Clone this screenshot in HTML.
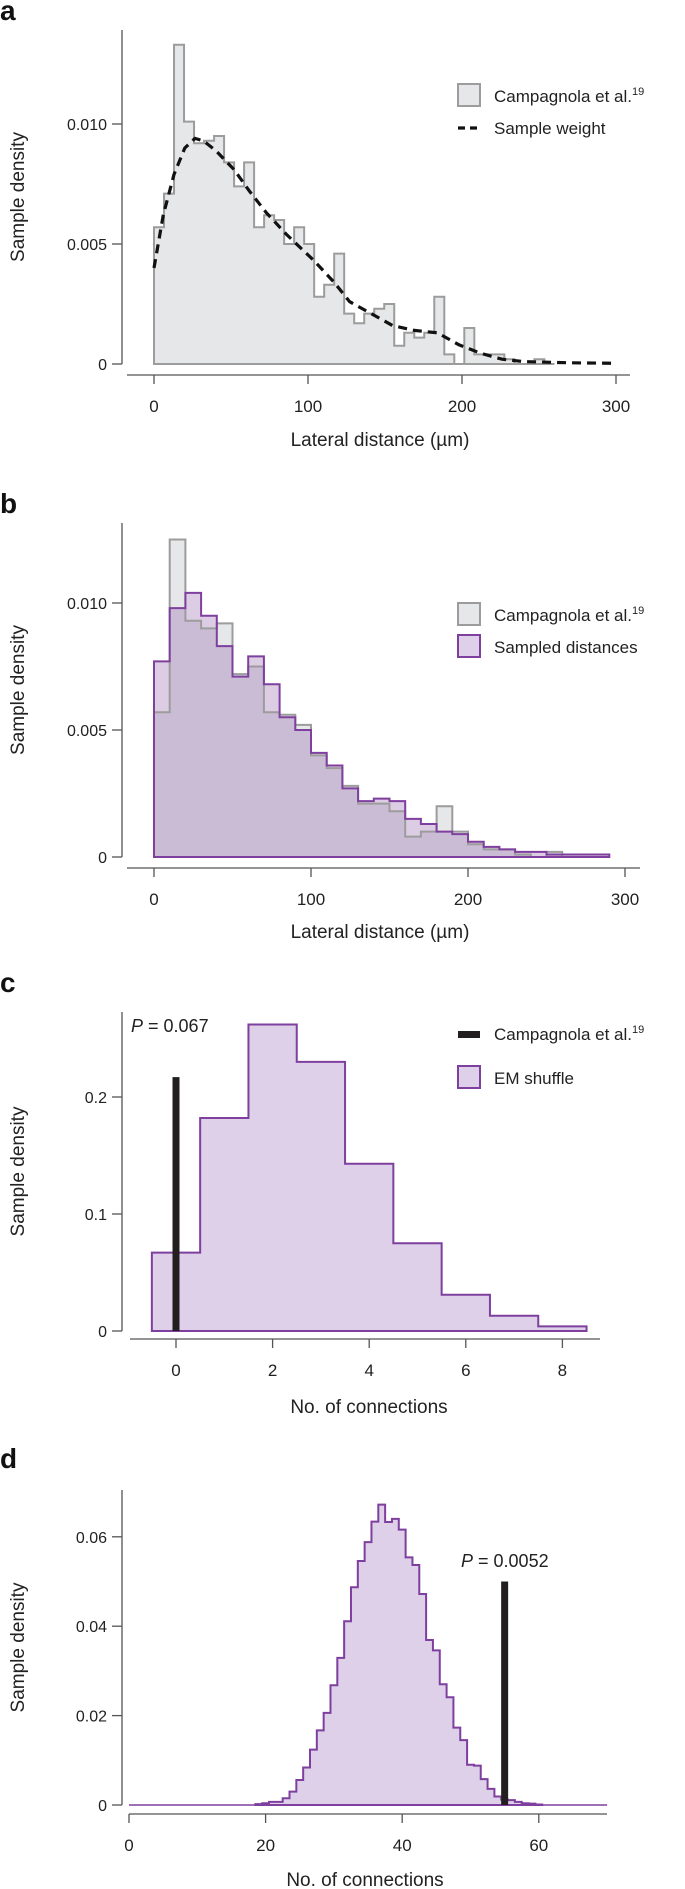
<!DOCTYPE html>
<html><head><meta charset="utf-8"><style>
html,body{margin:0;padding:0;background:#fff;}
svg{display:block;font-family:"Liberation Sans",sans-serif;}
</style></head><body>
<svg id="fig" width="685" height="1889" viewBox="0 0 685 1889" xmlns="http://www.w3.org/2000/svg"></svg>
<script>
// Panel a data
const aBinWidth = 6.5;
const aHist = [0.0057,0.0071,0.0133,0.0101,0.0092,0.0093,0.0095,0.0084,0.0074,0.0084,0.0057,0.0062,0.0060,0.0050,0.0057,0.0050,0.0028,0.0033,0.0046,0.0021,0.0017,0.0021,0.0023,0.0025,0.00076,0.0013,0.0011,0.0013,0.0028,0.0004,0,0.0015,0.0004,0.0004,0.0004,0.0002,0,0,0.0002,0];
const aCurveX = [0,6,13,20,26.6,32,40,52,62,73,86,104,117,127,141,155,169,184,198,212,226,240,270,300];
const aCurveY = [0.0040,0.0062,0.0079,0.0090,0.0094,0.0093,0.0089,0.0081,0.0072,0.0063,0.0054,0.0043,0.0034,0.0026,0.0021,0.0016,0.0014,0.0013,0.0008,0.00045,0.0002,0.0001,0.00005,0.00003];
const aXTicks = [0,100,200,300];
const aYTicks = [0,0.005,0.010];
const aYLabels = ["0","0.005","0.010"];
// Panel b data
const bBinWidth = 10;
const bGray = [0.0057,0.0125,0.0093,0.0090,0.0092,0.0072,0.0075,0.0057,0.0056,0.0052,0.0040,0.0035,0.0028,0.0021,0.0021,0.0018,0.0008,0.0010,0.0020,0.0010,0.0005,0.0003,0.0003,0.0001,0,0.0002,0];
const bPurple = [0.0077,0.0098,0.0104,0.0095,0.0083,0.0071,0.0079,0.0068,0.0055,0.0050,0.0041,0.0036,0.0027,0.0022,0.0023,0.0022,0.0015,0.0013,0.0010,0.0009,0.0006,0.0004,0.0003,0.0002,0.0002,0.0001,0.0001,0.0001,0.0001];
const bXTicks = [0,100,200,300];
const bYTicks = [0,0.005,0.010];
const bYLabels = ["0","0.005","0.010"];
// Panel c data
const cStart = -0.5;
const cHist = [0.067,0.182,0.262,0.230,0.143,0.075,0.031,0.013,0.004];
const cObserved = 0;
const cObservedHeight = 0.217;
const cXTicks = [0,2,4,6,8];
const cYTicks = [0,0.1,0.2];
const cYLabels = ["0","0.1","0.2"];
// Panel d data
const dStart = 18.5;
const dHist = [0.0002,0.0004,0.0007,0.0007,0.0015,0.0030,0.0056,0.0084,0.0124,0.0167,0.0206,0.0268,0.0329,0.0411,0.0487,0.0546,0.0588,0.0634,0.0672,0.0633,0.0640,0.0616,0.0554,0.0537,0.0472,0.0369,0.0346,0.0270,0.0241,0.0173,0.0145,0.0090,0.0088,0.0058,0.0036,0.0019,0.0012,0.0011,0.0007,0.0004,0.0003,0.0001];
const dObserved = 55;
const dObservedHeight = 0.05;
const dXTicks = [0,20,40,60];
const dYTicks = [0,0.02,0.04,0.06];
const dYLabels = ["0","0.02","0.04","0.06"];

const NS = "http://www.w3.org/2000/svg";
const svg = document.getElementById('fig');
const GRAYF = "#e6e7e8", GRAYS = "#9c9c9c", PURF = "rgba(140,90,170,0.3)", PURS = "#7e3f9e", AX = "#555", TX = "#222";
function mk(tag, attrs, parent){ const e = document.createElementNS(NS, tag); for (const k in attrs) e.setAttribute(k, attrs[k]); (parent||svg).appendChild(e); return e; }
function txt(s, x, y, size, anchor, parent){ const t = mk('text', {x:x, y:y, 'font-size':size, fill:TX, 'text-anchor':anchor||'start'}, parent); t.textContent = s; return t; }
function stepPath(vals, start, w, X, Y){
  let d = "M" + X(start) + "," + Y(0);
  vals.forEach((v,i)=>{ const x0 = X(start+i*w), x1 = X(start+(i+1)*w); d += " L"+x0+","+Y(v)+" L"+x1+","+Y(v); });
  d += " L" + X(start+vals.length*w) + "," + Y(0) + " Z";
  return d;
}
function axes(g, X, Y, o){
  const yl = mk('line',{x1:o.ax,y1:o.yTop,x2:o.ax,y2:o.yBot,stroke:AX,'stroke-width':1.3},g);
   
  o.yTicks.forEach((v,i)=>{
    const tk = mk('line',{x1:o.ax-10,y1:Y(v),x2:o.ax,y2:Y(v),stroke:AX,'stroke-width':1.3},g);
     
    const t = txt(o.yLabels[i], o.ax-15, Y(v)+6, 16, 'end', g);
     
  });
  const xl = mk('line',{x1:o.xL,y1:o.xAxisY,x2:o.xR,y2:o.xAxisY,stroke:AX,'stroke-width':1.3},g);
   
  o.xTicks.forEach(v=>{
    const tk = mk('line',{x1:X(v),y1:o.xAxisY,x2:X(v),y2:o.xAxisY+9,stroke:AX,'stroke-width':1.3},g);
     
    const t = txt(String(v), X(v), o.xAxisY+37, 17, 'middle', g);
     
  });
  const xt = txt(o.xTitle, o.xTitleX, o.xTitleY, 19, 'middle', g);
   
  const yt = txt('Sample density', 0, 0, 19, 'middle', g);
  yt.setAttribute('transform','translate(24,'+((o.yTop+o.yBot)/2)+') rotate(-90)');
   
  const pl = mk('text',{x:0,y:o.labelY,'font-size':28,'font-weight':'bold',fill:'#111'},g);
  pl.textContent = o.label;
   
}
function legendText(g, x, y, main, sup){
  const t = mk('text',{x:x,y:y,'font-size':17,fill:TX},g);
  t.appendChild(document.createTextNode(main));
  if (sup){ const s = document.createElementNS(NS,'tspan'); s.setAttribute('font-size','11'); s.setAttribute('dy','-7'); s.textContent = sup; t.appendChild(s); }
  return t;
}

// ---------- Panel a ----------
(function(){
  const g = mk('g',{});  
  const X = v => 154 + v*1.54, Y = v => 364 - v*24000;
  const h = mk('path',{d:stepPath(aHist,0,aBinWidth,X,Y),fill:GRAYF,stroke:GRAYS,'stroke-width':2,'stroke-linejoin':'miter'},g);
   
  const pts = aCurveX.map((x,i)=>X(x)+","+Y(aCurveY[i])).join(" ");
  const c = mk('polyline',{points:pts,fill:'none',stroke:'#111','stroke-width':3.2,'stroke-dasharray':'9 6'},g);
   
  axes(g,X,Y,{ax:122,yTop:30,yBot:364,yTicks:aYTicks,yLabels:aYLabels,xL:127,xR:630,xAxisY:375,xTicks:aXTicks,xTitle:'Lateral distance (\u00b5m)',xTitleX:380,xTitleY:446,label:'a',labelY:20});
  const r = mk('rect',{x:458,y:84,width:22,height:22,fill:GRAYF,stroke:GRAYS,'stroke-width':2},g);
   
  const t1 = legendText(g,494,102,'Campagnola et al.','19');  
  const d = mk('line',{x1:458,y1:128,x2:480,y2:128,stroke:'#111','stroke-width':3.2,'stroke-dasharray':'7 5'},g);
   
  const t2 = legendText(g,494,134,'Sample weight');  
})();

// ---------- Panel b ----------
(function(){
  const g = mk('g',{});  
  const X = v => 154 + v*1.57, Y = v => 857 - v*25400;
  const gp = stepPath(bGray,0,bBinWidth,X,Y), pp = stepPath(bPurple,0,bBinWidth,X,Y);
  const g1 = mk('path',{d:gp,fill:GRAYF,stroke:'none'},g);  
  const p1 = mk('path',{d:pp,fill:PURF,stroke:'none'},g);  
  const g2 = mk('path',{d:gp,fill:'none',stroke:GRAYS,'stroke-width':2},g);  
  const p2 = mk('path',{d:pp,fill:'none',stroke:PURS,'stroke-width':2},g);  
  axes(g,X,Y,{ax:122,yTop:523,yBot:857,yTicks:bYTicks,yLabels:bYLabels,xL:127,xR:640,xAxisY:868,xTicks:bXTicks,xTitle:'Lateral distance (\u00b5m)',xTitleX:380,xTitleY:938,label:'b',labelY:513});
  const r1 = mk('rect',{x:458,y:603,width:22,height:22,fill:GRAYF,stroke:GRAYS,'stroke-width':2},g);
   
  const t1 = legendText(g,494,621,'Campagnola et al.','19');  
  const r2 = mk('rect',{x:458,y:635,width:22,height:22,fill:'#ddd0e8',stroke:PURS,'stroke-width':2},g);
   
  const t2 = legendText(g,494,653,'Sampled distances');  
})();

// ---------- Panel c ----------
(function(){
  const g = mk('g',{});  
  const X = v => 176 + v*48.3, Y = v => 1331 - v*1170;
  const p = mk('path',{d:stepPath(cHist,cStart,1,X,Y),fill:'#ddd0e8',stroke:PURS,'stroke-width':2},g);
   
  const b = mk('rect',{x:X(cObserved)-3.5,y:Y(cObservedHeight),width:7,height:Y(0)-Y(cObservedHeight),fill:'#231f20'},g);
   
  axes(g,X,Y,{ax:122,yTop:1012,yBot:1331,yTicks:cYTicks,yLabels:cYLabels,xL:130,xR:600,xAxisY:1339,xTicks:cXTicks,xTitle:'No. of connections',xTitleX:369,xTitleY:1413,label:'c',labelY:992});
  const pv = mk('text',{x:131,y:1032,'font-size':18,fill:TX},g);
  pv.innerHTML = '<tspan font-style="italic">P</tspan> = 0.067';
   
  const r1 = mk('rect',{x:458,y:1031,width:22,height:7,fill:'#231f20'},g);
   
  const t1 = legendText(g,494,1040,'Campagnola et al.','19');  
  const r2 = mk('rect',{x:458,y:1066,width:22,height:22,fill:'#ddd0e8',stroke:PURS,'stroke-width':2},g);
   
  const t2 = legendText(g,494,1084,'EM shuffle');  
})();

// ---------- Panel d ----------
(function(){
  const g = mk('g',{});  
  const X = v => 129 + v*6.83, Y = v => 1805 - v*4470;
  const base = mk('line',{x1:X(0),y1:Y(0),x2:X(70),y2:Y(0),stroke:PURS,'stroke-width':1.5},g);
   
  const p = mk('path',{d:stepPath(dHist,dStart,1,X,Y),fill:'#ddd0e8',stroke:PURS,'stroke-width':2},g);
   
  const b = mk('rect',{x:X(dObserved)-3.5,y:Y(dObservedHeight),width:7,height:Y(0)-Y(dObservedHeight),fill:'#231f20'},g);
   
  axes(g,X,Y,{ax:122,yTop:1490,yBot:1805,yTicks:dYTicks,yLabels:dYLabels,xL:129,xR:607,xAxisY:1814,xTicks:dXTicks,xTitle:'No. of connections',xTitleX:365,xTitleY:1886,label:'d',labelY:1468});
  const pv = mk('text',{x:461,y:1567,'font-size':18,fill:TX},g);
  pv.innerHTML = '<tspan font-style="italic">P</tspan> = 0.0052';
   
})();
</script>
</body></html>
